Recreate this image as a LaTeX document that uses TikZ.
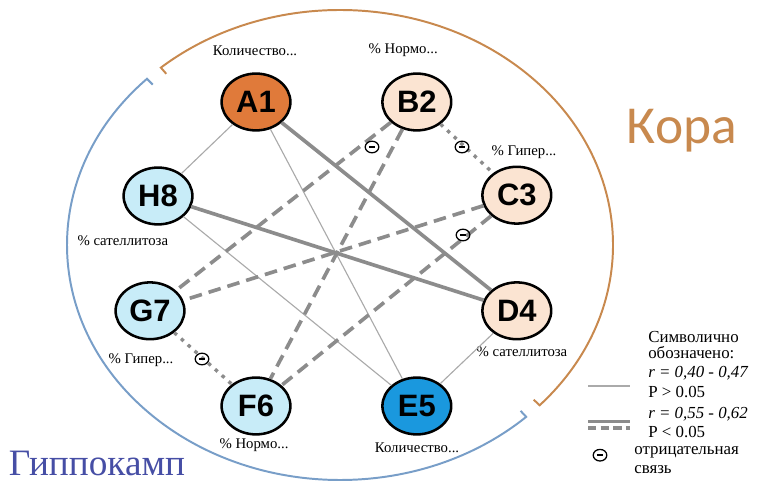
\documentclass[tikz,border=0pt]{standalone}
\usepackage{fontspec}
\setmainfont{Liberation Serif}
\newfontfamily\arialfont{Liberation Sans}
\newfontfamily\calfont{Carlito}
\usetikzlibrary{shapes.geometric,calc}
\definecolor{korac}{RGB}{200,137,78}
\definecolor{hippoc}{RGB}{120,158,200}
\definecolor{orangefill}{RGB}{224,122,58}
\definecolor{peachfill}{RGB}{251,228,210}
\definecolor{bluefill}{RGB}{26,152,222}
\definecolor{skyfill}{RGB}{200,236,248}
\definecolor{linegray}{RGB}{140,140,140}
\definecolor{thingray}{RGB}{170,170,170}

\begin{document}
\begin{tikzpicture}
\useasboundingbox (0,0) rectangle (19,12.1);
\tikzstyle{vert}=[draw,shape=ellipse,line width=1.8pt,minimum width=1.72cm,minimum height=1.42cm,inner sep=0pt,font=\arialfont\bfseries\fontsize{22}{22}\selectfont];
\tikzstyle{lbl}=[inner sep=0pt,font=\fontsize{10.5}{11}\selectfont];
\tikzstyle{leg}=[anchor=west,inner sep=0pt,font=\fontsize{12}{12.5}\selectfont];
\tikzstyle{weak}=[draw=thingray,line width=0.8pt];
\tikzstyle{strong}=[draw=linegray,line width=2.6pt];
\tikzstyle{negdash}=[draw=linegray,line width=2.6pt,dash pattern=on 9pt off 5pt];
\tikzstyle{negdot}=[draw=linegray,line width=2.4pt,dash pattern=on 2.5pt off 4pt];
\tikzstyle{neg}=[draw,shape=ellipse,line width=0.9pt,minimum width=0.34cm,minimum height=0.29cm,inner sep=0pt,
  path picture={\draw[line width=1.5pt] ([xshift=-0.08cm]path picture bounding box.center) -- ([xshift=0.08cm]path picture bounding box.center);}];
% zones
\coordinate (c) at (8.5,5.975);
\draw[korac,line width=1.4pt] ($(c)+(-43:6.62cm and 5.67cm)$) -- ($(c)+(-43:6.825cm and 5.875cm)$)
  arc[start angle=-43,end angle=131,x radius=6.825cm,y radius=5.875cm] -- ($(c)+(131:6.62cm and 5.67cm)$);
\draw[hippoc,line width=1.4pt] ($(c)+(135:6.62cm and 5.67cm)$) -- ($(c)+(135:6.825cm and 5.875cm)$)
  arc[start angle=135,end angle=313,x radius=6.825cm,y radius=5.875cm] -- ($(c)+(313:6.62cm and 5.67cm)$);
\node[text=korac,font=\calfont\fontsize{38}{38}\selectfont] (kora) at (17.05,8.825) {Кора};
\node[text={rgb,255:red,70;green,78;blue,165},font=\fontsize{26.5}{27}\selectfont] (hippo) at (2.425,0.525) {Гиппокамп};
% nodes
\node[vert,fill=orangefill] (a1) at (6.4,9.55) {A1};
\node[vert,fill=peachfill] (b2) at (10.42,9.55) {B2};
\node[vert,fill=peachfill] (c3) at (12.92,7.22) {C3};
\node[vert,fill=peachfill] (d4) at (12.92,4.33) {D4};
\node[vert,fill=bluefill] (e5) at (10.42,1.95) {E5};
\node[vert,fill=skyfill] (f6) at (6.4,1.95) {F6};
\node[vert,fill=skyfill] (g7) at (3.75,4.33) {G7};
\node[vert,fill=skyfill] (h8) at (3.95,7.2) {H8};
\node[lbl] (la1) at (6.375,10.825) {Количество...};
\node[lbl] (lb2) at (10.08,10.85) {\% Нормо...};
\node[lbl] (lc3) at (13.1,8.3) {\% Гипер...};
\node[lbl] (ld4) at (13.05,3.3) {\% сателлитоза};
\node[lbl] (le5) at (10.425,0.9) {Количество...};
\node[lbl] (lf6) at (6.35,0.975) {\% Нормо...};
\node[lbl] (lg7) at (3.525,3.1) {\% Гипер...};
\node[lbl] (lh8) at (3.07,6.075) {\% сателлитоза};
% links
\draw[weak] (a1) -- (h8)
  (a1) -- (e5)
  (h8) -- (e5)
  (d4) -- (e5);
\draw[strong] (a1) -- (d4)
  (h8) -- (d4);
\draw[negdash] (b2) -- (g7)
  (b2) -- (f6)
  (c3) -- (g7)
  (c3) -- (f6);
\draw[negdot] (b2) -- (c3)
  (g7) -- (f6);
\node[neg] (m1) at (9.3,8.425) {};
\node[neg] (m2) at (11.55,8.425) {};
\node[neg] (m3) at (11.575,6.225) {};
\node[neg] (m4) at (5.05,3.125) {};
% legend
\node[leg] (s1) at (16.2,3.67) {Символично};
\node[leg] (s2) at (16.2,3.29) {обозначено:};
\node[leg] (s3) at (16.2,2.78) {\textit{r = 0,40 - 0,47}};
\node[leg] (s4) at (16.2,2.3) {P > 0.05};
\node[leg] (s5) at (16.2,1.74) {\textit{r = 0,55 - 0,62}};
\node[leg] (s6) at (16.2,1.3) {P < 0.05};
\node[leg] (s7) at (15.85,0.8) {отрицательная};
\node[leg] (s8) at (15.85,0.37) {связь};
\coordinate (t1) at (14.7,2.45);
\coordinate (t2) at (15.75,2.45);
\coordinate (t3) at (14.7,1.57);
\coordinate (t4) at (15.75,1.57);
\coordinate (t5) at (14.7,1.4);
\coordinate (t6) at (15.75,1.4);
\draw[weak] (t1) -- (t2);
\draw[draw=linegray,line width=2.2pt] (t3) -- (t4);
\draw[draw=linegray,line width=2.2pt,dash pattern=on 6pt off 3pt] (t5) -- (t6);
\node[neg] (m5) at (15.0,0.72) {};
\end{tikzpicture}
\end{document}
